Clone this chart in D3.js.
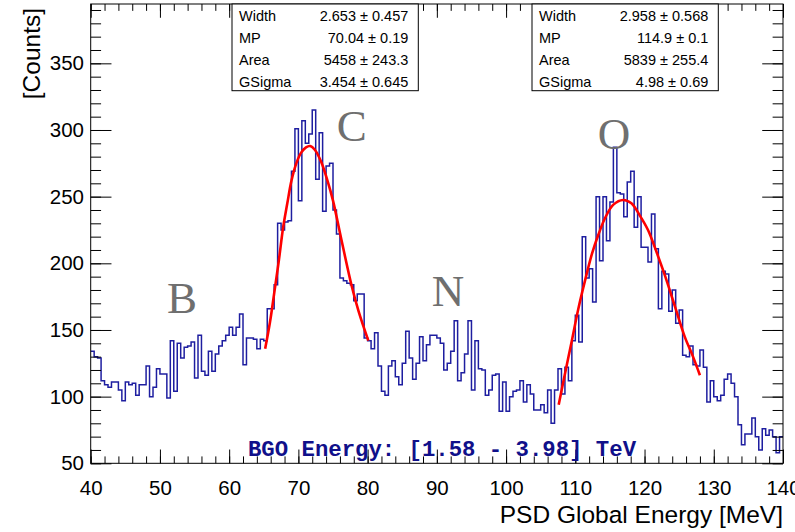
<!DOCTYPE html>
<html><head><meta charset="utf-8">
<script src="https://cdn.jsdelivr.net/npm/d3@7"></script>
<style>body{margin:0;background:#fff} svg{display:block}</style>
</head><body>
<svg id="c" width="795" height="532"></svg>
<script>
// ---- data ----
const binLow = 40, binHigh = 140, binCount = 200;
const counts = [
134,130,129,112,109,107,111,111,105,97,
111,109,110,101,109,109,123,100,107,121,
117,117,99,142,104,140,129,137,138,141,
114,146,119,116,134,119,132,138,142,146,
152,146,152,162,124,144,144,143,136,143,
142,166,166,184,230,225,231,232,269,301,
247,307,290,297,315,263,298,239,273,275,
240,222,189,187,185,184,172,177,177,144,
142,136,148,123,104,101,123,127,115,109,
125,149,129,113,125,145,127,139,146,146,
144,140,120,125,134,157,112,118,132,157,
105,142,121,120,101,105,116,117,89,111,
89,100,104,105,112,96,109,102,90,90,
94,88,105,80,105,121,102,122,112,142,
161,141,220,189,196,171,250,202,250,217,
246,287,253,252,235,261,269,227,250,212,
212,201,237,211,166,194,192,164,180,155,
165,131,130,138,124,123,135,122,96,112,
100,97,101,113,117,110,100,79,64,72,
72,84,70,60,76,71,75,70,58,70
];
const fitC = [[65.2,136],[65.9,156],[66.6,181],[67.2,203],[67.8,227],[68.4,245],[69.0,262],[69.7,275],[70.4,283],[71.1,287],[71.7,288],[72.4,285],[73.3,276],[74.2,262],[75.0,247],[76.2,218],[77.7,183],[78.7,164],[80.1,142]];
const fitO = [[107.6,94],[108.5,117],[109.5,142],[110.4,165],[111.4,187],[112.4,207],[113.3,221],[114.3,234],[115.5,244],[116.9,247.5],[118.1,245],[119.3,236],[120.5,225],[121.8,207.5],[123.0,190],[124.4,167.5],[125.8,145],[127.0,130],[128.0,116]];
const xMajor = [40,50,60,70,80,90,100,110,120,130,140];
const yMajor = [50,100,150,200,250,300,350];
const statC = [["Width","2.653 \u00b1 0.457"],["MP","70.04 \u00b1 0.19"],["Area","5458 \u00b1 243.3"],["GSigma","3.454 \u00b1 0.645"]];
const statO = [["Width","2.958 \u00b1 0.568"],["MP","114.9 \u00b1 0.1"],["Area","5839 \u00b1 255.4"],["GSigma","4.98 \u00b1 0.69"]];
const peakNames = ["B","C","N","O"];
const peakAt = [[53.2,163],[77.7,292],[91.6,168],[115.6,286]];
const xTitle = "PSD Global Energy [MeV]";
const yTitle = "[Counts]";
const rangeText = "BGO Energy: [1.58 - 3.98] TeV";

// ---- layout ----
const L = 90.7, R = 783, T = 4, B = 463.3;
const W = R - L, H = B - T;
const svg = d3.select("#c");
const x = d3.scaleLinear().domain([binLow, binHigh]).range([L, R]);
const y = d3.scaleLinear().domain([50, 394.5]).range([B, T]);
const sans = "'Liberation Sans', Arial, Helvetica, sans-serif";

const edges = d3.range(binCount + 1).map(i => binLow + i * (binHigh - binLow) / binCount);
const stepPts = counts.map((c, i) => [edges[i], c]).concat([[edges[binCount], counts[binCount - 1]]]);

svg.append("clipPath").attr("id","pc").append("rect")
  .attr("x", L).attr("y", T).attr("width", W).attr("height", H);

// histogram
svg.append("path")
  .attr("clip-path","url(#pc)")
  .attr("d", d3.line().x(d => x(d[0])).y(d => y(d[1])).curve(d3.curveStepAfter)(stepPts))
  .attr("fill","none").attr("stroke","#1e1ea0").attr("stroke-width",1.5);

// fits
const fitLine = d3.line().x(d => x(d[0])).y(d => y(d[1])).curve(d3.curveCatmullRom);
[fitC, fitO].forEach(f => svg.append("path").attr("d", fitLine(f))
  .attr("fill","none").attr("stroke","#ff0000").attr("stroke-width",2.6));

// axes
const tx = 0.03 * H, ty = 0.03 * W;
function styl(g){ g.select(".domain").remove(); g.selectAll("line").attr("stroke","#000"); }
const xMinor = d3.range(binLow, binHigh + 0.001, 2);
const yMinor = d3.range(50, 391, 10);
svg.append("g").attr("transform",`translate(0,${B})`)
  .call(d3.axisBottom(x).tickValues(xMinor).tickSize(-tx/2).tickFormat("")).call(styl);
const gx = svg.append("g").attr("transform",`translate(0,${B})`)
  .call(d3.axisBottom(x).tickValues(xMajor).tickSize(-tx).tickPadding(17.5).tickFormat(d3.format("d"))).call(styl);
gx.selectAll("text").attr("font-family", sans).attr("font-size", 20.5).attr("fill","#000");
svg.append("g").attr("transform",`translate(0,${T})`)
  .call(d3.axisTop(x).tickValues(xMinor).tickSize(-tx/2).tickFormat("")).call(styl);
svg.append("g").attr("transform",`translate(0,${T})`)
  .call(d3.axisTop(x).tickValues(xMajor).tickSize(-tx).tickFormat("")).call(styl);

svg.append("g").attr("transform",`translate(${L},0)`)
  .call(d3.axisLeft(y).tickValues(yMinor).tickSize(-ty/2).tickFormat("")).call(styl);
const gy = svg.append("g").attr("transform",`translate(${L},0)`)
  .call(d3.axisLeft(y).tickValues(yMajor).tickSize(-ty).tickPadding(6.7).tickFormat(d3.format("d"))).call(styl);
gy.selectAll("text").attr("font-family", sans).attr("font-size", 20.5).attr("fill","#000");
svg.append("g").attr("transform",`translate(${R},0)`)
  .call(d3.axisRight(y).tickValues(yMinor).tickSize(-ty/2).tickFormat("")).call(styl);
svg.append("g").attr("transform",`translate(${R},0)`)
  .call(d3.axisRight(y).tickValues(yMajor).tickSize(-ty).tickFormat("")).call(styl);

// frame
svg.append("rect").attr("x",L).attr("y",T).attr("width",W).attr("height",H)
  .attr("fill","none").attr("stroke","#000").attr("stroke-width",1);

// titles
svg.append("text").attr("x", R).attr("y", 523).attr("text-anchor","end")
  .attr("font-family", sans).attr("font-size", 24.5).text(xTitle);
svg.append("text").attr("transform","translate(40,8) rotate(-90)").attr("text-anchor","end")
  .attr("font-family", sans).attr("font-size", 24.5).text(yTitle);

// peak labels
peakNames.forEach((n, i) => svg.append("text")
  .attr("x", x(peakAt[i][0])).attr("y", y(peakAt[i][1])).attr("text-anchor","middle")
  .attr("font-family","'Liberation Serif', 'Times New Roman', serif").attr("font-size", 45)
  .attr("fill","#6f6f6f").text(n));

// range text
svg.append("text").attr("x", 442).attr("y", 456).attr("text-anchor","middle")
  .attr("font-family","'Liberation Mono', 'Courier New', monospace").attr("font-weight","bold")
  .attr("font-size", 22.3).attr("fill","#10108a").text(rangeText);

// stat boxes
function statBox(x0, x1, rows){
  const g = svg.append("g");
  g.append("rect").attr("x", x0).attr("y", T).attr("width", x1 - x0).attr("height", 90.7 - T)
    .attr("fill","#fff").attr("stroke","#000").attr("stroke-width",1);
  rows.forEach((r, i) => {
    const by = 21 + i * 21.9;
    g.append("text").attr("x", x0 + 7).attr("y", by).attr("font-family", sans).attr("font-size", 14.5).text(r[0]);
    g.append("text").attr("x", x1 - 10).attr("y", by).attr("text-anchor","end").attr("font-family", sans).attr("font-size", 14.5).text(r[1]);
  });
}
statBox(232, 418.3, statC);
statBox(532, 718.3, statO);
</script>
</body></html>
